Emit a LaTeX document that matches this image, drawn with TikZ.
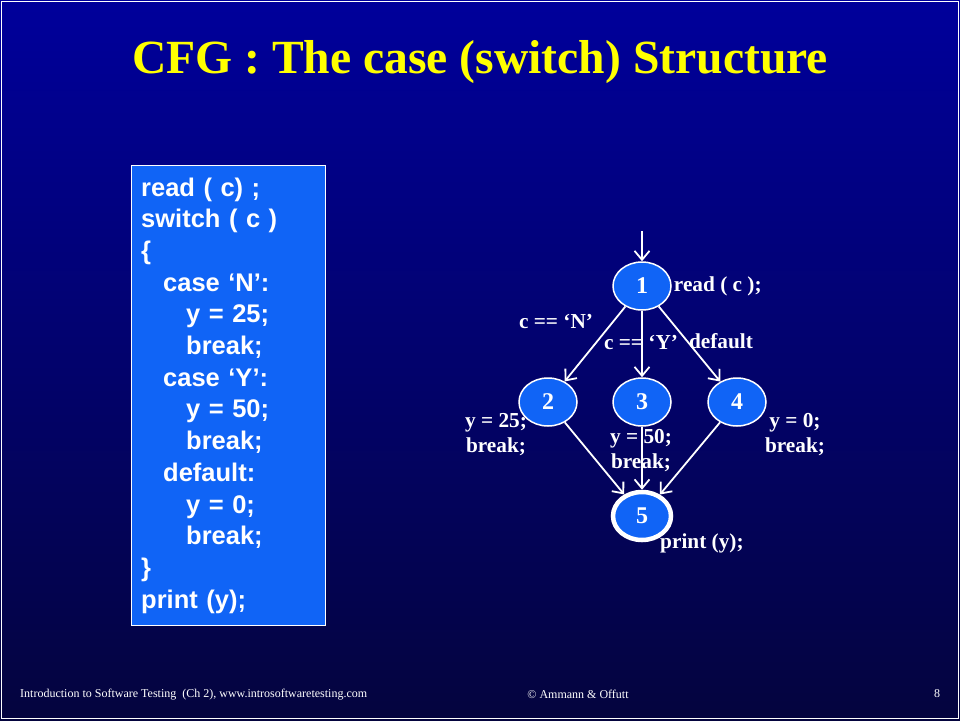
\documentclass[tikz,border=0pt]{standalone}
\usepackage{fontspec}
\setmainfont{Liberation Serif}
\newfontfamily\codefont{Liberation Sans}
\usetikzlibrary{positioning,shapes.geometric,arrows.meta}

\definecolor{bgtop}{RGB}{0,0,155}
\definecolor{bgbot}{RGB}{4,4,62}
\definecolor{boxblue}{RGB}{16,100,246}
\definecolor{titleyellow}{RGB}{255,255,0}

\tikzset{
	cfgnode/.style={ellipse, draw=white, line width=1.5pt, fill=boxblue, text=white,
		minimum width=58pt, minimum height=48pt, inner sep=0pt,
		font=\bfseries\fontsize{24}{24}\selectfont},
	lastnode/.style={cfgnode, line width=4.5pt},
	edge/.style={draw=white, line width=1.8pt, -{Straight Barb[length=9pt,width=15pt]}},
	lbl/.style={text=white, inner sep=0pt, align=center,
		font=\bfseries\fontsize{21.3}{25}\selectfont},
	foot/.style={text=white, inner sep=0pt, font=\fontsize{12}{12}\selectfont},
}

\begin{document}
\begin{tikzpicture}[x=1pt, y=-1pt]
	\useasboundingbox (0,0) rectangle (960,720);
	% slide background
	\shade [top color=bgtop, bottom color=bgbot] (0,0) rectangle (960,720);
	\draw [white, line width=1.5pt] (1.5,1.5) rectangle (958.5,718.5);

	% title
	\node [text=titleyellow, inner sep=0pt, anchor=base,
		font=\bfseries\fontsize{47.6}{47.6}\selectfont] (title) at (480,73)
		{CFG : The case (switch) Structure};

	% source code
	\node [draw=white, line width=1pt, fill=boxblue, minimum width=194pt,
		minimum height=460pt, anchor=north west] (box) at (131,165) {};
	\node [text=white, inner sep=0pt, anchor=base west, text width=180pt, align=left,
		font=\codefont\bfseries\fontsize{25.5}{31.7}\selectfont] (code) at (141,196)
		{read ( c) ;\\
		switch ( c )\\
		\{\\
		\hspace*{22pt}case ‘N’:\\
		\hspace*{45pt}y = 25;\\
		\hspace*{45pt}break;\\
		\hspace*{22pt}case ‘Y’:\\
		\hspace*{45pt}y = 50;\\
		\hspace*{45pt}break;\\
		\hspace*{22pt}default:\\
		\hspace*{45pt}y = 0;\\
		\hspace*{45pt}break;\\
		\}\\
		print (y);};

	% control flow graph
	\node [cfgnode] (n1) at (642,286) {1};
	\node [cfgnode] (n2) at (548,402) {2};
	\node [cfgnode] (n3) at (642,402) {3};
	\node [cfgnode] (n4) at (737,402) {4};
	\node [lastnode] (n5) at (642,516) {5};
	\coordinate (entry) at (642,231);

	\draw [edge] (entry) -- (n1);
	\foreach \to in {n2,n3,n4}{%
			\draw [edge] (n1) -- (\to);
			\draw [edge] (\to) -- (n5);
			}

	\node [lbl, right=2pt of n1] (lread) {read ( c );};
	\node [lbl] (lcn) at (556,322) {c == ‘N’};
	\node [lbl] (lcy) at (641,343) {c == ‘Y’};
	\node [lbl] (ldef) at (721,341) {default};
	\node [lbl] (l2) at (496,435) {y = 25;\\break;};
	\node [lbl] (l3) at (641,451) {y = 50;\\break;};
	\node [lbl] (l4) at (795,435) {y = 0;\\break;};
	\node [lbl, anchor=west] (lprint) at (660,543) {print (y);};

	% footer
	\node [foot, anchor=west] (fleft) at (20,695)
		{Introduction to Software Testing\ \ (Ch 2), www.introsoftwaretesting.com};
	\node [foot] (fmid) at (578,694) {© Ammann \& Offutt};
	\node [foot] (fnum) at (937,694) {8};
\end{tikzpicture}
\end{document}
